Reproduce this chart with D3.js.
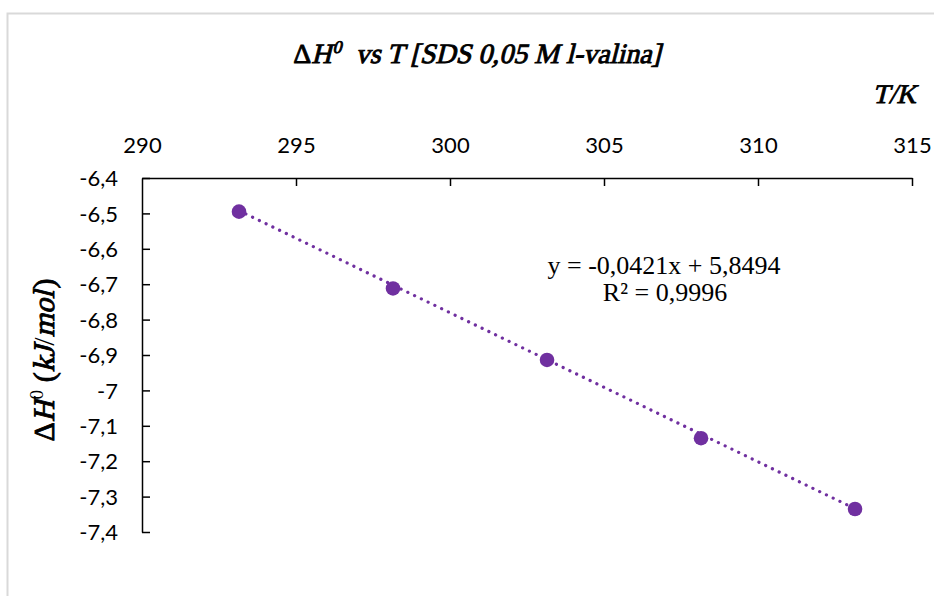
<!DOCTYPE html>
<html>
<head>
<meta charset="utf-8">
<script src="https://cdn.jsdelivr.net/npm/d3@7"></script>
<style>
  html, body { margin: 0; padding: 0; background: #fff; }
  svg { display: block; }
  .serif { font-family: "Liberation Serif", serif; font-weight: normal; font-style: normal; }
  .heavy { stroke: #000; stroke-width: 0.9px; paint-order: stroke; }
  .num { font-family: Lato, "Open Sans", sans-serif; }
</style>
</head>
<body>
<svg id="chart" width="934" height="596"></svg>
<script>
// Temperatures (K) and enthalpy values (kJ/mol)
const temperatures = [293.15, 298.15, 303.15, 308.15, 313.15];
const enthalpies = [-6.495, -6.712, -6.914, -7.135, -7.335];
const xTicks = [290, 295, 300, 305, 310, 315];
const yTicks = [-6.4, -6.5, -6.6, -6.7, -6.8, -6.9, -7.0, -7.1, -7.2, -7.3, -7.4];
const slope = -0.0421, intercept = 5.8494, rSquared = 0.9996;

const svg = d3.select("#chart");
const W = 934, H = 596;
const plotLeft = 142, plotRight = 912, plotTop = 178, plotBottom = 532;
const purple = "#7030A0";
const slant = -14;

// Outer chart frame
svg.append("rect")
  .attr("x", 7.5).attr("y", 13.5).attr("width", W + 20).attr("height", H + 20)
  .attr("fill", "#fff").attr("stroke", "#d9d9d9").attr("stroke-width", 2);

const x = d3.scaleLinear().domain([290, 315]).range([plotLeft, plotRight]);
const y = d3.scaleLinear().domain([-6.4, -7.4]).range([plotTop, plotBottom]);

const fmt = v => {
  const s = d3.format(".1f")(v).replace("−", "-");
  return (s.endsWith(".0") ? s.slice(0, -2) : s).replace(".", ",");
};

// Axis at top with ticks pointing into the plot
const xAxis = svg.append("g").attr("transform", `translate(0,${plotTop})`)
  .call(d3.axisBottom(x).tickValues(xTicks).tickSize(8).tickSizeOuter(0).tickFormat(d => d));
xAxis.select(".domain").attr("stroke", "#000").attr("stroke-width", 1.5);
xAxis.selectAll(".tick line").attr("stroke", "#000").attr("stroke-width", 1.5)
  .attr("display", d => (d === 290 ? "none" : null));
xAxis.selectAll(".tick text").attr("y", -33).attr("dy", "0.35em")
  .attr("class", "num").attr("font-size", 22).attr("fill", "#000");

// Left axis, ticks pointing right
const yAxis = svg.append("g").attr("transform", `translate(${plotLeft},0)`)
  .call(d3.axisRight(y).tickValues(yTicks).tickSize(8).tickSizeOuter(0).tickFormat(fmt));
yAxis.select(".domain").attr("stroke", "#000").attr("stroke-width", 1.5);
yAxis.selectAll(".tick line").attr("stroke", "#000").attr("stroke-width", 1.5);
yAxis.selectAll(".tick text").attr("x", -24).attr("text-anchor", "end").attr("dy", "0.35em")
  .attr("class", "num").attr("font-size", 22).attr("fill", "#000");
svg.selectAll("g").attr("font-family", null);

// Linear trendline (dotted)
const t0 = temperatures[0], t1 = temperatures[temperatures.length - 1];
svg.append("line")
  .attr("x1", x(t0)).attr("y1", y(slope * t0 + intercept))
  .attr("x2", x(t1)).attr("y2", y(slope * t1 + intercept))
  .attr("stroke", purple).attr("stroke-width", 3.2)
  .attr("stroke-linecap", "round").attr("stroke-dasharray", "0.1 7.4");

// Data markers
svg.append("g").selectAll("circle")
  .data(temperatures.map((t, i) => [t, enthalpies[i]]))
  .join("circle")
  .attr("cx", d => x(d[0])).attr("cy", d => y(d[1])).attr("r", 7.3)
  .attr("fill", purple);

// Rich text: a row of pieces, each optionally slanted, raised or outlined,
// laid out along the baseline and centred on the anchor point.
function richText(transform, size, pieces) {
  const g = svg.append("g").attr("transform", transform);
  let cursor = 0;
  const nodes = pieces.map(p => {
    const fs = p.sup ? size * 0.64 : size;
    const holder = g.append("g");
    const t = holder.append("text").attr("class", "serif" + (p.bold ? " heavy" : ""))
      .attr("font-size", fs).text(p.text);
    const w = t.node().getComputedTextLength();
    const node = { holder, x: cursor, dy: p.sup ? -size * 0.36 : 0, italic: p.italic };
    cursor += w + (p.gap || 0);
    return node;
  });
  const offset = -cursor / 2;
  nodes.forEach(n => n.holder.attr("transform",
    `translate(${n.x + offset},${n.dy})` + (n.italic ? ` skewX(${slant})` : "")));
  return g;
}

// Title
richText("translate(477,63)", 28, [
  { text: "Δ", bold: true },
  { text: "H", bold: true, italic: true, gap: 1 },
  { text: "0", bold: true, italic: true, sup: true },
  { text: "\u00a0\u00a0vs T [SDS 0,05 M l-valina]", bold: true, italic: true }
]);

// Axis unit on the top right
svg.append("g").attr("transform", `translate(916,103) skewX(${slant})`)
  .append("text").attr("class", "serif heavy").attr("text-anchor", "end").attr("font-size", 27)
  .text("T/K");

// Vertical axis title
richText("translate(54,360) rotate(-90)", 30, [
  { text: "Δ", bold: true },
  { text: "H", bold: true, italic: true, gap: 1 },
  { text: "0", sup: true },
  { text: "\u00a0(", bold: true },
  { text: "kJ", bold: true, italic: true },
  { text: "/", bold: false },
  { text: "mol", bold: true, italic: true, gap: 2 },
  { text: ")", bold: true }
]);

// Trendline equation
const eq = svg.append("g").attr("class", "serif")
  .attr("font-size", 26).attr("text-anchor", "middle");
const fmtNum = (v, d) => v.toFixed(d).replace(".", ",");
eq.append("text").attr("x", 664).attr("y", 274)
  .text(`y = ${fmtNum(slope, 4)}x + ${fmtNum(intercept, 4)}`);
eq.append("text").attr("x", 665).attr("y", 301)
  .text(`R² = ${fmtNum(rSquared, 4)}`);
</script>
</body>
</html>
